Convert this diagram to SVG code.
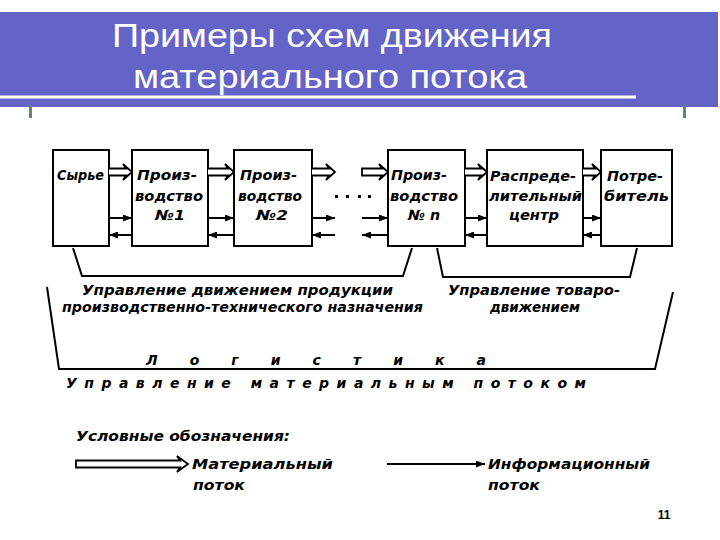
<svg xmlns="http://www.w3.org/2000/svg" width="720" height="540" viewBox="0 0 720 540">
<style>
.box{fill:#fff;stroke:#000;stroke-width:2}
.hw{font-family:"DejaVu Sans","Liberation Sans",sans-serif;font-style:italic;font-weight:bold;font-size:14px;fill:#000}
.mat{fill:#fff;stroke:#000;stroke-width:1.8;stroke-linejoin:miter}
.inf{stroke:#000;stroke-width:2;fill:none;marker-end:url(#ah)}
.br{fill:none;stroke:#000;stroke-width:2}
.title{font-family:"Liberation Sans",Arial,sans-serif;font-size:34px;fill:#fff}
</style>
<defs>
<marker id="ah" markerUnits="userSpaceOnUse" markerWidth="9" markerHeight="7" refX="9" refY="3.5" orient="auto">
<path d="M0,0 L9,3.5 L0,7 Z" fill="#000"/>
</marker>
</defs>
<rect width="720" height="540" fill="#fff"/>
<g id="header">
<rect x="0" y="12" width="718" height="95" fill="#6464C8"/>
<rect x="0" y="95.5" width="636" height="3" fill="#fff"/>
<rect x="29" y="105" width="3" height="13" fill="#5a8a6a"/>
<rect x="683" y="105" width="3" height="13" fill="#5a8a6a"/>
<text class="title" x="332" y="47" text-anchor="middle" textLength="440" lengthAdjust="spacingAndGlyphs">Примеры схем движения</text>
<text class="title" x="330" y="88" text-anchor="middle" textLength="394" lengthAdjust="spacingAndGlyphs">материального потока</text>
</g>
<g id="n-syrye">
<rect class="box" x="53" y="150" width="56" height="96"/>
<text class="hw" x="57" y="180" textLength="47" lengthAdjust="spacingAndGlyphs">Сырье</text>
</g>
<g id="n-pr1">
<rect class="box" x="132" y="150" width="76" height="96"/>
<text class="hw" x="137" y="180" textLength="60" lengthAdjust="spacingAndGlyphs">Произ-</text>
<text class="hw" x="135" y="201" textLength="68" lengthAdjust="spacingAndGlyphs">водство</text>
<text class="hw" x="155" y="220" textLength="30" lengthAdjust="spacingAndGlyphs">№1</text>
</g>
<g id="n-pr2">
<rect class="box" x="234" y="150" width="78" height="96"/>
<text class="hw" x="240" y="180" textLength="57" lengthAdjust="spacingAndGlyphs">Произ-</text>
<text class="hw" x="238" y="201" textLength="64" lengthAdjust="spacingAndGlyphs">водство</text>
<text class="hw" x="256" y="220" textLength="32" lengthAdjust="spacingAndGlyphs">№2</text>
</g>
<g id="n-prn">
<rect class="box" x="388" y="150" width="77" height="96"/>
<text class="hw" x="391" y="180" textLength="56" lengthAdjust="spacingAndGlyphs">Произ-</text>
<text class="hw" x="390" y="201" textLength="68" lengthAdjust="spacingAndGlyphs">водство</text>
<text class="hw" x="408" y="220" textLength="32" lengthAdjust="spacingAndGlyphs">№ n</text>
</g>
<g id="n-center">
<rect class="box" x="487" y="150" width="96" height="96"/>
<text class="hw" x="490" y="181" textLength="86" lengthAdjust="spacingAndGlyphs">Распреде-</text>
<text class="hw" x="489" y="201" textLength="93" lengthAdjust="spacingAndGlyphs">лительный</text>
<text class="hw" x="509" y="220" textLength="50" lengthAdjust="spacingAndGlyphs">центр</text>
</g>
<g id="n-consumer">
<rect class="box" x="601" y="150" width="71" height="96"/>
<text class="hw" x="607" y="181" textLength="56" lengthAdjust="spacingAndGlyphs">Потре-</text>
<text class="hw" x="604" y="201" textLength="65" lengthAdjust="spacingAndGlyphs">битель</text>
</g>
<g id="connectors">
<path class="mat" d="M109,168.5 L126,168.5 L123,164 L132,172 L123,180 L126,175.5 L109,175.5"/>
<path class="mat" d="M208,168.5 L228,168.5 L225,164 L234,172 L225,180 L228,175.5 L208,175.5"/>
<path class="mat" d="M312,168.5 L329,168.5 L326,164 L335,172 L326,180 L329,175.5 L312,175.5"/>
<path class="mat" d="M362,168.5 L382,168.5 L379,164 L388,172 L379,180 L382,175.5 L362,175.5 Z"/>
<path class="mat" d="M465,168.5 L481,168.5 L478,164 L487,172 L478,180 L481,175.5 L465,175.5"/>
<path class="mat" d="M583,168.5 L595,168.5 L592,164 L601,172 L592,180 L595,175.5 L583,175.5"/>
<line class="inf" x1="109" y1="218" x2="132" y2="218"/>
<line class="inf" x1="132" y1="235" x2="109" y2="235"/>
<line class="inf" x1="208" y1="218" x2="234" y2="218"/>
<line class="inf" x1="234" y1="235" x2="208" y2="235"/>
<line class="inf" x1="312" y1="218" x2="335" y2="218"/>
<line class="inf" x1="335" y1="235" x2="312" y2="235"/>
<line class="inf" x1="362" y1="218" x2="388" y2="218"/>
<line class="inf" x1="388" y1="235" x2="362" y2="235"/>
<line class="inf" x1="465" y1="218" x2="487" y2="218"/>
<line class="inf" x1="487" y1="235" x2="465" y2="235"/>
<line class="inf" x1="583" y1="218" x2="601" y2="218"/>
<line class="inf" x1="601" y1="235" x2="583" y2="235"/>
<g fill="#000">
<rect x="335" y="195" width="3" height="3"/>
<rect x="346" y="195" width="3" height="3"/>
<rect x="358" y="195" width="3" height="3"/>
<rect x="368" y="195" width="3" height="3"/>
</g>
</g>
<g id="brackets">
<polyline class="br" points="73,248 82,276 403,276 412,248"/>
<polyline class="br" points="437,248 443,277 630,277 637,248"/>
<polyline class="br" points="47,287 59,369 655,369 673,292"/>
<text class="hw" x="82" y="295" textLength="311" lengthAdjust="spacingAndGlyphs">Управление движением продукции</text>
<text class="hw" x="62" y="312" textLength="361" lengthAdjust="spacingAndGlyphs">производственно-технического назначения</text>
<text class="hw" x="448" y="295" textLength="172" lengthAdjust="spacingAndGlyphs">Управление товаро-</text>
<text class="hw" x="490" y="312" textLength="90" lengthAdjust="spacingAndGlyphs">движением</text>
<text class="hw" x="146" y="365" textLength="340" lengthAdjust="spacing">Л о г и с т и к а</text>
<text class="hw" x="66" y="388" textLength="520" lengthAdjust="spacing">Управление материальным потоком</text>
</g>
<g id="legend">
<text class="hw" x="76" y="441" textLength="214" lengthAdjust="spacingAndGlyphs">Условные обозначения:</text>
<path class="mat" d="M76,460.5 L180,460.5 L177,456 L188,464 L177,472 L180,467.5 L76,467.5 Z"/>
<text class="hw" x="192" y="469" textLength="141" lengthAdjust="spacingAndGlyphs">Материальный</text>
<text class="hw" x="193" y="490" textLength="52" lengthAdjust="spacingAndGlyphs">поток</text>
<line class="inf" x1="387" y1="464" x2="485" y2="464"/>
<text class="hw" x="488" y="469" textLength="162" lengthAdjust="spacingAndGlyphs">Информационный</text>
<text class="hw" x="488" y="490" textLength="52" lengthAdjust="spacingAndGlyphs">поток</text>
</g>
<text x="664" y="519" text-anchor="middle" font-family="Liberation Sans,Arial,sans-serif" font-weight="bold" font-size="12" fill="#000">11</text>
</svg>
